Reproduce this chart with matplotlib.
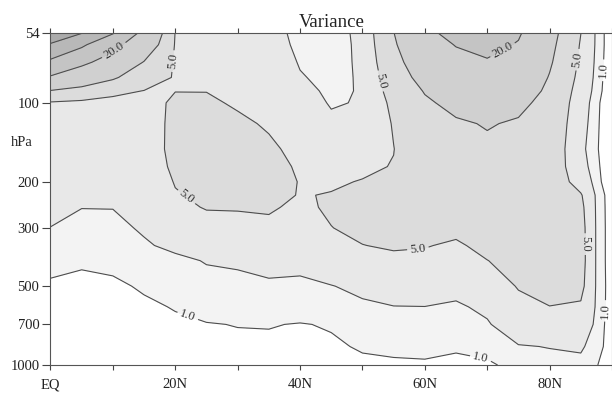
import numpy as np
import matplotlib
matplotlib.use("Agg")
import matplotlib.pyplot as plt
from matplotlib.ticker import FixedLocator, NullLocator, NullFormatter

plt.rcParams['font.family'] = ['Liberation Serif', 'DejaVu Serif']

# grid
lat = [0, 5, 10, 15, 20, 25, 30, 35, 40, 45, 50, 55, 60, 65, 70, 75, 80, 85, 87.5, 90]
lev = [54, 60, 70, 80, 90, 100, 120, 150, 175, 200, 225, 250, 300, 350, 400, 500, 600, 700, 850, 1000]

# variance at each latitude, from 54 hPa down to 1000 hPa
var_by_lat = [
    [48, 39, 28, 19, 9.7, 4.6, 4.4, 4.0, 3.6, 3.3, 2.9, 2.5, 1.97, 1.6, 1.3, 0.85, 0.7, 0.6, 0.5, 0.4],
    [40.5, 31.5, 21.8, 14.3, 8, 4.2, 4.0, 3.6, 3.2, 2.8, 2.4, 2.02, 1.7, 1.4, 1.1, 0.8, 0.65, 0.55, 0.45, 0.4],
    [30.8, 22.5, 16.3, 10.8, 5.6, 4.3, 4.0, 3.5, 3.1, 2.8, 2.4, 2.02, 1.8, 1.5, 1.2, 0.85, 0.7, 0.6, 0.5, 0.45],
    [17.5, 14.5, 9.7, 6.4, 4.95, 3.8, 3.4, 3.3, 3.2, 3.1, 2.9, 2.7, 2.1, 1.9, 1.7, 1.1, 0.85, 0.7, 0.6, 0.5],
    [4.9, 4.75, 4.6, 4.8, 4.95, 5.5, 5.8, 5.9, 5.6, 5.15, 4.8, 4.4, 3.3, 2.2, 1.8, 1.45, 1.05, 0.85, 0.65, 0.55],
    [4.0, 4.1, 4.3, 4.6, 4.95, 5.4, 5.9, 6.1, 6.0, 5.8, 5.5, 5.15, 4.0, 3.0, 2.05, 1.7, 1.35, 0.95, 0.75, 0.6],
    [3.4, 3.5, 3.7, 3.9, 4.2, 4.7, 5.5, 6.0, 6.1, 6.0, 5.6, 5.15, 4.3, 3.2, 2.1, 1.8, 1.5, 1.03, 0.8, 0.65],
    [2.55, 2.65, 2.9, 3.2, 3.5, 3.8, 4.7, 5.5, 5.8, 5.8, 5.6, 5.3, 4.4, 3.4, 2.3, 1.85, 1.55, 1.05, 0.8, 0.7],
    [1.6, 1.7, 1.9, 2.1, 2.4, 2.7, 3.4, 4.2, 4.7, 4.92, 4.9, 4.5, 3.7, 2.8, 2.2, 1.85, 1.5, 0.95, 0.8, 0.7],
    [1.55, 1.55, 1.6, 1.65, 1.75, 1.88, 2.3, 3.3, 4.1, 4.75, 5.1, 5.35, 4.95, 3.9, 3.0, 1.95, 1.6, 1.08, 0.85, 0.7],
    [2.3, 2.25, 2.2, 2.15, 2.1, 2.1, 2.7, 3.7, 4.6, 5.1, 5.5, 5.8, 5.6, 4.95, 4.1, 2.35, 1.75, 1.5, 1.1, 0.8],
    [9.9, 9.3, 8.3, 7.3, 6.5, 5.8, 5.2, 4.95, 5.1, 5.6, 6.0, 6.2, 6.0, 5.3, 4.4, 3.0, 1.95, 1.6, 1.2, 0.85],
    [17.2, 15.6, 13.5, 11.9, 10.3, 9.3, 8.0, 7.2, 6.9, 6.7, 6.6, 6.5, 6.0, 5.15, 4.3, 3.0, 1.98, 1.7, 1.3, 0.85],
    [24, 20.4, 17, 14.5, 12.8, 11.3, 9.4, 8.3, 7.8, 7.4, 7.0, 6.6, 5.7, 4.6, 3.8, 2.45, 1.8, 1.6, 1.05, 0.9],
    [25, 22.5, 19.2, 16.6, 14.6, 13.0, 10.3, 9.1, 8.5, 8.1, 7.7, 7.3, 6.6, 5.8, 4.95, 3.3, 2.3, 1.85, 1.3, 0.85],
    [21, 19.4, 17, 14.8, 12.8, 11.1, 9.5, 8.8, 8.5, 8.3, 8.0, 7.8, 7.2, 6.6, 6.0, 5.2, 4.1, 3.0, 1.9, 1.3],
    [12, 11.4, 10.6, 9.7, 9.0, 8.5, 7.9, 7.5, 7.4, 7.4, 7.4, 7.4, 7.3, 7.1, 6.8, 6.0, 4.95, 3.9, 2.05, 1.55],
    [5.05, 4.7, 4.3, 3.9, 3.4, 3.0, 2.7, 2.4, 2.7, 3.6, 5.3, 5.8, 6.2, 6.3, 6.3, 5.9, 4.6, 3.5, 2.2, 1.6],
    [1.7, 1.7, 1.6, 1.5, 1.4, 1.2, 1.15, 1.1, 1.2, 1.3, 1.7, 1.75, 1.8, 1.8, 1.8, 1.8, 1.75, 1.6, 1.4, 1.05],
    [0.3, 0.3, 0.3, 0.3, 0.3, 0.3, 0.3, 0.3, 0.3, 0.35, 0.4, 0.4, 0.4, 0.4, 0.4, 0.45, 0.45, 0.45, 0.5, 0.5],
]

plain_levels = [2, 10, 30, 40]
labelled = [1, 5, 20]
fill_bounds = [0, 1, 2, 5, 10, 20, 30, 40, 100]
fill_colors = ['#ffffff', '#f3f3f3', '#e8e8e8', '#dcdcdc', '#d0d0d0', '#c4c4c4', '#b8b8b8', '#ababab']
label_spots = [(10.8, 66), (19.2, 69), (21.3, 237), (22, 650), (53.3, 82), (72.5, 63),
               (58.9, 360), (83.7, 68), (86, 345), (88.5, 75), (88.9, 620), (69, 930)]

ytick_vals = [54, 100, 200, 300, 500, 700, 1000]
xtick_vals = [0, 20, 40, 60, 80]
xtick_labels = ['EQ', '20N', '40N', '60N', '80N']
xminor_vals = [10, 30, 50, 70, 90]

Z = np.array(var_by_lat).T

fig = plt.figure(figsize=(6.12, 3.93), dpi=100)
ax = fig.add_axes([0.0825, 0.0712, 0.9175, 0.8456])

ax.contourf(lat, lev, Z, levels=fill_bounds, colors=fill_colors)
ax.contour(lat, lev, Z, levels=plain_levels, colors='#4d4d4d', linewidths=0.8)
cs = ax.contour(lat, lev, Z, levels=labelled, colors='#4d4d4d', linewidths=0.8)

ax.set_yscale('log')
ax.set_ylim(1000, 54)
ax.set_xlim(0, 90)

ax.yaxis.set_major_locator(FixedLocator(ytick_vals))
ax.yaxis.set_minor_locator(NullLocator())
ax.yaxis.set_minor_formatter(NullFormatter())
ax.set_yticklabels([str(v) for v in ytick_vals])
ax.set_xticks(xtick_vals)
ax.set_xticklabels(xtick_labels)
ax.set_xticks(xminor_vals, minor=True)

ax.tick_params(axis='y', direction='out', length=6, width=0.8, pad=2,
               labelsize=10.5, colors='#444444', labelcolor='#222222', right=False)
ax.tick_params(axis='x', which='both', direction='out', length=3.5, width=0.8, pad=6,
               labelsize=10.5, colors='#444444', labelcolor='#222222', top=True)
for sp in ax.spines.values():
    sp.set_linewidth(0.8)
    sp.set_color('#555555')

ax.clabel(cs, fmt='%.1f', fontsize=9, inline=True, inline_spacing=3,
          manual=label_spots, colors='#333333')

ax.set_title('Variance', fontsize=13.5, pad=4, color='#222222')
fig.text(22 / 612, 1 - 143 / 393, 'hPa', fontsize=10.5, ha='center', va='center', color='#222222')

fig.savefig('out.png', dpi=100)
